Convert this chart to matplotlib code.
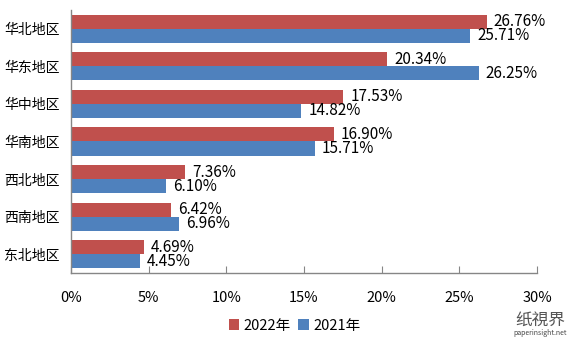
import matplotlib.pyplot as plt
import numpy as np

plt.rcParams['font.family'] = ['Noto Sans CJK SC', 'DejaVu Sans']

regions = ['华北地区', '华东地区', '华中地区', '华南地区', '西北地区', '西南地区', '东北地区']
share_2022 = [26.76, 20.34, 17.53, 16.90, 7.36, 6.42, 4.69]
share_2021 = [25.71, 26.25, 14.82, 15.71, 6.10, 6.96, 4.45]
xticks = [0, 5, 10, 15, 20, 25, 30]

red = '#C0504D'
blue = '#4F81BD'
axis_grey = '#868686'

fig = plt.figure(figsize=(5.84, 3.43), dpi=100)
ax = fig.add_axes([0.1216, 0.204, 0.798, 0.767])

y = np.arange(len(regions))
h = 0.375
bars_a = ax.barh(y - h / 2, share_2022, height=h, color=red, label='2022年')
bars_b = ax.barh(y + h / 2, share_2021, height=h, color=blue, label='2021年')

for bars, vals in ((bars_a, share_2022), (bars_b, share_2021)):
    for b, v in zip(bars, vals):
        ax.text(v + 0.45, b.get_y() + b.get_height() / 2, f'{v:.2f}%',
                va='center', ha='left', fontsize=11, color='#000000')

ax.set_ylim(len(regions) - 0.5, -0.5)
ax.set_xlim(0, 30)
ax.set_yticks(y)
ax.set_yticklabels(regions, fontsize=10)
ax.set_xticks(xticks)
ax.set_xticklabels([f'{t}%' for t in xticks], fontsize=10.5)

for side in ('top', 'right'):
    ax.spines[side].set_visible(False)
for side in ('left', 'bottom'):
    ax.spines[side].set_color(axis_grey)
    ax.spines[side].set_linewidth(1)
ax.tick_params(axis='y', length=0, pad=8)
ax.tick_params(axis='x', direction='in', length=5, color=axis_grey, pad=13)

ax.legend(loc='center', bbox_to_anchor=(0.48, -0.2), ncol=2, frameon=False,
          fontsize=10.5, handlelength=0.7, handleheight=0.7, handletextpad=0.3,
          columnspacing=0.5)

# site mark in the corner
fig.text(0.925, 0.067, '纸視界', fontsize=12, color='#555555', ha='center', va='center')
fig.text(0.925, 0.028, 'paperinsight.net', fontsize=5, color='#444444', ha='center', va='center')

fig.savefig('out.png', dpi=100)
